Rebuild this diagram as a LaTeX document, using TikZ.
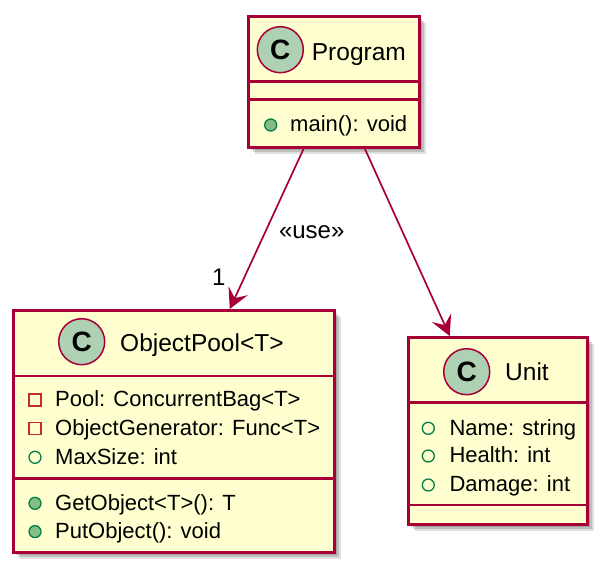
\documentclass[tikz,border=0pt]{standalone}
\usepackage{fontspec}
\setmainfont{Liberation Sans}
\usetikzlibrary{arrows.meta, positioning, shadows}
\definecolor{umlborder}{HTML}{A80036}
\definecolor{umlfill}{HTML}{FEFECE}
\definecolor{badgefill}{HTML}{ADD1B2}
\definecolor{privred}{HTML}{C82930}
\definecolor{pubgreen}{HTML}{038048}
\definecolor{methfill}{HTML}{84BE84}

\begin{document}
\begin{tikzpicture}[x=1pt, y=-1pt,
  classbox/.style={draw=umlborder, fill=umlfill, line width=2.5pt, anchor=north west, inner sep=0pt,
    drop shadow={shadow xshift=7pt, shadow yshift=-7pt, fill=black, opacity=0.12},
    drop shadow={shadow xshift=5pt, shadow yshift=-5pt, fill=black, opacity=0.15},
    drop shadow={shadow xshift=3pt, shadow yshift=-3pt, fill=black, opacity=0.15}},
  badge/.style={circle, draw=umlborder, fill=badgefill, line width=1.5pt, minimum size=46pt, inner sep=0pt,
    font=\fontsize{28}{32}\selectfont\bfseries},
  title/.style={anchor=base west, inner sep=0pt, font=\fontsize{24.5}{28}\selectfont},
  member/.style={anchor=base west, inner sep=0pt, font=\fontsize{22}{26}\selectfont},
  privfield/.style={draw=privred, line width=1.3pt, minimum size=12pt, inner sep=0pt},
  pubfield/.style={circle, draw=pubgreen, line width=1.3pt, minimum size=12pt, inner sep=0pt},
  pubmethod/.style={pubfield, fill=methfill},
  divider/.style={umlborder, line width=2.5pt},
  uses/.style={-{Stealth[length=20pt, width=21pt, inset=8pt]}, umlborder, line width=1.7pt}
]
\useasboundingbox (0,0) rectangle (606,573);

% Program
\node[classbox, minimum width=171pt, minimum height=131pt] (prog) at (247,15) {};
\node[badge] (progC) at (280.3,49.7) {C};
\node[title] (progT) at (311.7,60.7) {Program};
\draw[divider] (prog.west |- 0,81.7) -- (prog.east |- 0,81.7);
\draw[divider] (prog.west |- 0,99.3) -- (prog.east |- 0,99.3);
\node[pubmethod] (progM1i) at (270.7,125) {};
\node[member] (progM1) at (290,131.7) {main(): void};

% ObjectPool<T>
\node[classbox, minimum width=321pt, minimum height=242pt] (pool) at (12,309) {};
\node[badge] (poolC) at (81.7,341.7) {C};
\node[title] (poolT) at (120,351.7) {ObjectPool<T>};
\draw[divider] (pool.west |- 0,376) -- (pool.east |- 0,376);
\draw[divider] (pool.west |- 0,478.3) -- (pool.east |- 0,478.3);
\node[privfield] (poolF1i) at (35,400) {};
\node[member] (poolF1) at (55,406.7) {Pool: ConcurrentBag<T>};
\node[privfield] (poolF2i) at (35,428.3) {};
\node[member] (poolF2) at (55,435) {ObjectGenerator: Func<T>};
\node[pubfield] (poolF3i) at (35,457.3) {};
\node[member] (poolF3) at (55,464) {MaxSize: int};
\node[pubmethod] (poolM1i) at (35,503.3) {};
\node[member] (poolM1) at (55,510) {GetObject<T>(): T};
\node[pubmethod] (poolM2i) at (35,531.6) {};
\node[member] (poolM2) at (55,538.3) {PutObject(): void};

% Unit
\node[classbox, minimum width=179pt, minimum height=187pt] (unit) at (407,336) {};
\node[badge] (unitC) at (466.7,371.7) {C};
\node[title] (unitT) at (505,380) {Unit};
\draw[divider] (unit.west |- 0,402.7) -- (unit.east |- 0,402.7);
\draw[divider] (unit.west |- 0,505) -- (unit.east |- 0,505);
\node[pubfield] (unitF1i) at (428.3,428.3) {};
\node[member] (unitF1) at (449.3,435) {Name: string};
\node[pubfield] (unitF2i) at (428.3,456) {};
\node[member] (unitF2) at (449.3,462.7) {Health: int};
\node[pubfield] (unitF3i) at (428.3,485) {};
\node[member] (unitF3) at (449.3,491.7) {Damage: int};

% Relations
\draw[uses] ([xshift=-30pt]prog.south) -- ([xshift=56pt]pool.north);
\draw[uses] ([xshift=31pt]prog.south) -- ([xshift=-48pt]unit.north);
\node[anchor=base, inner sep=0pt, font=\fontsize{24}{28}\selectfont] (useLbl) at (311.7,238.3) {«use»};
\node[anchor=base west, inner sep=0pt, font=\fontsize{24}{28}\selectfont] (multLbl) at (212,285) {1};
\end{tikzpicture}
\end{document}
